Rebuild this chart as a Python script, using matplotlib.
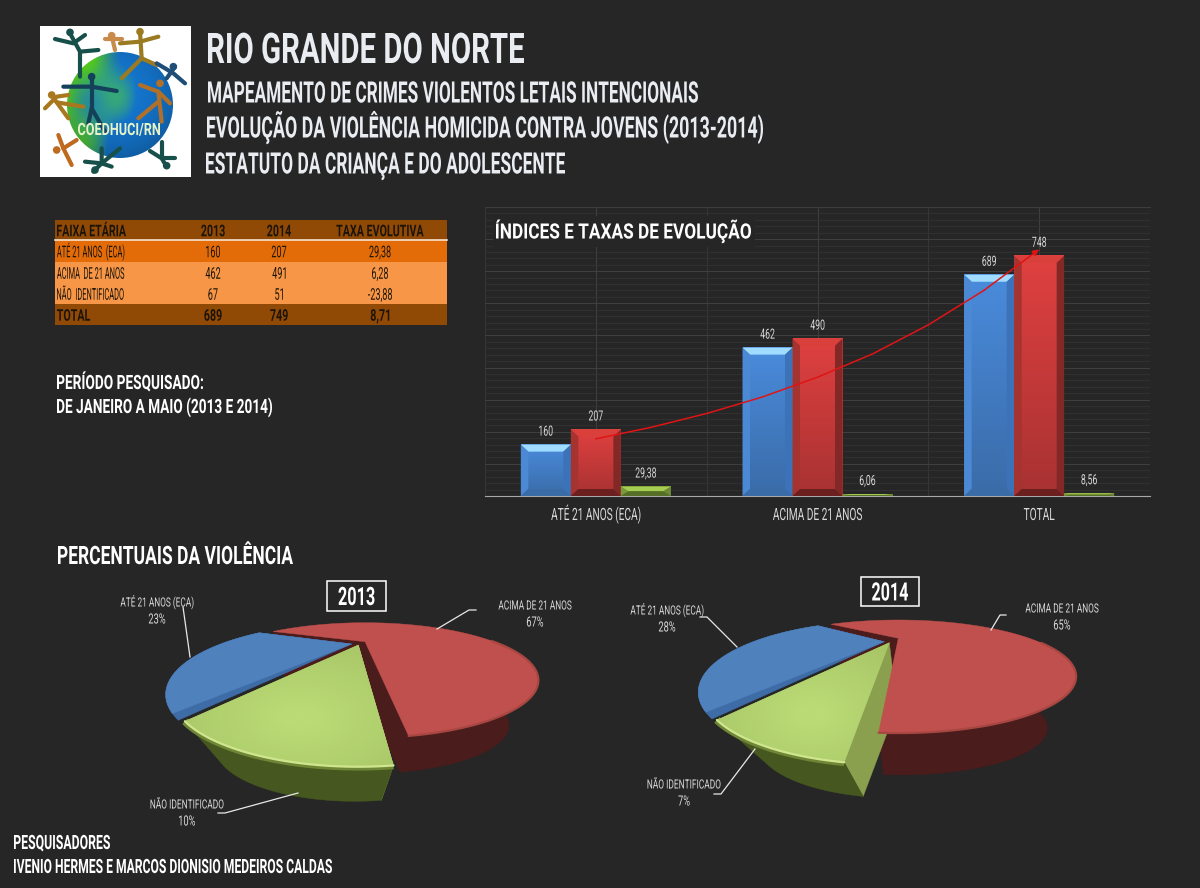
import numpy as np
import matplotlib
matplotlib.use("Agg")
import matplotlib.pyplot as plt
from matplotlib.patches import Polygon, Rectangle, Circle
from matplotlib.colors import LinearSegmentedColormap, to_rgba
from matplotlib.text import Text
from matplotlib.textpath import TextPath
from matplotlib.transforms import Affine2D
from matplotlib.font_manager import FontProperties

# ---------- DATA ----------
table_header = ["FAIXA ETÁRIA", "2013", "2014", "TAXA EVOLUTIVA"]
table_rows = [
    ["ATÉ 21 ANOS  (ECA)", "160", "207", "29,38"],
    ["ACIMA  DE 21 ANOS", "462", "491", "6,28"],
    ["NÃO  IDENTIFICADO", "67", "51", "-23,88"],
]
table_total = ["TOTAL", "689", "749", "8,71"]

bar_categories = ["ATÉ 21 ANOS (ECA)", "ACIMA DE 21 ANOS", "TOTAL"]
values_2013 = [160, 462, 689]
values_2014 = [207, 490, 748]
values_rate = [29.38, 6.06, 8.56]
rate_labels = ["29,38", "6,06", "8,56"]

trend_x = [0, 0.25, 0.5, 0.75, 1.0, 1.25, 1.5, 1.75, 2.0]
trend_y = [178, 214, 257, 308, 370, 443, 533, 640, 768]

pie_labels = ["ATÉ 21 ANOS (ECA)", "ACIMA DE 21 ANOS", "NÃO IDENTIFICADO"]
pie_2013 = [23, 67, 10]
pie_2014 = [28, 65, 7]

BG = "#262626"
plt.rcParams["font.family"] = ["Roboto", "DejaVu Sans"]

fig = plt.figure(figsize=(12, 8.88), dpi=100, facecolor=BG)
ov = fig.add_axes([0, 0, 1, 1], zorder=1)
ov.set_xlim(0, 1200)
ov.set_ylim(888, 0)
ov.axis("off")


class CondensedText(Text):
    """A text artist drawn with its glyphs squeezed horizontally, as the chart's condensed face."""

    def __init__(self, x, y, s, cap, width=None, squeeze=0.62, **kw):
        super().__init__(x, y, s, va="center", **kw)
        self._cap, self._wid, self._sq = cap, width, squeeze

    def _geom(self):
        fp = FontProperties(family="Roboto", weight=self.get_fontweight())
        tp = TextPath((0, 0), self.get_text(), size=100, prop=fp)
        e = tp.get_extents()
        h = TextPath((0, 0), "H", size=100, prop=fp).get_extents().height
        sy = self._cap / h
        sx = self._wid / e.width if self._wid else self._sq * sy
        dx, dy = self.get_transform().transform(self.get_position())
        ha = self.get_ha()
        tx = dx - e.x0 * sx if ha == "left" else dx - (e.x0 + e.width / 2) * sx
        return tp, Affine2D().scale(sx, sy).translate(tx, dy - self._cap / 2)

    def get_window_extent(self, renderer=None, dpi=None):
        p, tr = self._geom()
        return p.get_extents(tr)

    def draw(self, renderer):
        if not self.get_visible():
            return
        p, tr = self._geom()
        gc = renderer.new_gc()
        gc.set_linewidth(0)
        gc.set_antialiased(True)
        renderer.draw_path(gc, p, tr, rgbFace=to_rgba(self.get_color()))
        gc.restore()


def fit(x, y, s, cap, width=None, squeeze=0.62, color="#F0F2F5", weight="normal", ha="left", ax=ov, zorder=10):
    t = CondensedText(x, y, s, cap, width, squeeze, color=color, fontweight=weight, ha=ha, zorder=zorder)
    ax._add_text(t)
    t.set_clip_on(False)
    return t


# ---------- HEADINGS ----------
TXT = "#E9ECF1"
fit(208, 48, "RIO GRANDE DO NORTE", 30, 316, weight="bold", color=TXT)
fit(208, 92, "MAPEAMENTO DE CRIMES VIOLENTOS LETAIS INTENCIONAIS", 21, 490, weight="bold", color=TXT)
fit(207, 127, "EVOLUÇÃO DA VIOLÊNCIA HOMICIDA CONTRA JOVENS (2013-2014)", 21, 556, weight="bold", color=TXT)
fit(206, 163, "ESTATUTO DA CRIANÇA E DO ADOLESCENTE", 21, 359, weight="bold", color=TXT)
fit(57, 382, "PERÍODO PESQUISADO:", 14, 146, weight="bold", color="white")
fit(57, 406, "DE JANEIRO A MAIO (2013 E 2014)", 14, 215, weight="bold", color="white")
fit(58, 555, "PERCENTUAIS DA VIOLÊNCIA", 18, 235, weight="bold", color="white")
fit(14, 842, "PESQUISADORES", 14, 96, weight="bold", color="white")
fit(14, 866, "IVENIO HERMES E MARCOS DIONISIO MEDEIROS CALDAS", 14, 318, weight="bold", color="white")

# ---------- LOGO ----------
ov.add_patch(Rectangle((40, 26), 151, 151, fc="white", ec="none", zorder=2))
n = 200
yy, xx = np.mgrid[0:1:n * 1j, 0:1:n * 1j]
blue = np.array([0.08, 0.47, 0.82])
green = np.array([0.35, 0.85, 0.12])
mix = np.clip(1.2 - 1.7 * xx - 0.5 * yy + 0.35 * np.sin(xx * 9) * np.cos(yy * 7), 0, 1)[..., None]
img = mix * green + (1 - mix) * blue
shade = 1 - 0.3 * np.clip(np.hypot(xx - 0.45, yy - 0.4) * 1.4, 0, 1)[..., None] ** 2
im = ov.imshow(img * shade, extent=(67, 173, 158, 52), zorder=3, aspect="auto")
im.set_clip_path(Circle((120, 105), 53, transform=ov.transData))
people = [
    ("#17504A", (120, 52), [[(120, 55), (150, 110), (150, 185)], [(75, 72), (130, 85), (165, 60)], [(150, 110), (205, 105)]]),
    ("#C98A4A", (245, 62), [[(225, 72), (275, 72)], [(245, 62), (255, 105)]]),
    ("#9A7B22", (330, 50), [[(270, 85), (330, 80), (385, 65)], [(330, 50), (335, 130)], [(335, 130), (275, 190)], [(335, 130), (380, 150)]]),
    ("#1F4E79", (430, 155), [[(380, 145), (430, 175), (465, 205)], [(410, 190), (435, 155)]]),
    ("#14405A", (185, 185), [[(100, 215), (185, 215), (260, 228)], [(185, 190), (185, 280)], [(185, 280), (175, 325)], [(185, 280), (225, 350)]]),
    ("#B0702A", (390, 205), [[(330, 210), (385, 230), (420, 265)], [(385, 230), (395, 320)], [(385, 260), (325, 310)]]),
    ("#A8781E", (65, 240), [[(45, 280), (80, 245), (115, 240)], [(75, 255), (115, 310)], [(80, 262), (160, 275)]]),
    ("#C06A20", (80, 405), [[(85, 360), (100, 400), (140, 375)], [(100, 400), (125, 450)]]),
    ("#17504A", (195, 465), [[(165, 440), (215, 445), (270, 400)], [(215, 400), (215, 445), (245, 455)], [(215, 445), (190, 470)]]),
    ("#17504A", (410, 452), [[(395, 380), (395, 430), (435, 430)], [(360, 408), (395, 430), (410, 455)]]),
]
for col, head, strokes in people:
    ov.add_patch(Circle((head[0] / 3 + 30, head[1] / 3 + 15), 3.8, fc=col, ec="none", zorder=4))
    for st in strokes:
        pts = np.array(st) / 3 + np.array([30, 15])
        ov.plot(pts[:, 0], pts[:, 1], color=col, lw=3.0, solid_capstyle="round", zorder=4)
fit(119, 129, "COEDHUCI/RN", 12, 82, weight="bold", color="#E6F2C8", ha="center", zorder=5)

# ---------- TABLE ----------
col_x = [57, 213, 279, 380]
col_ha = ["left", "center", "center", "center"]
DARK_O, MID_O, LIGHT_O = "#914A05", "#E36C09", "#F79646"
ink = "#1C1408"
band = [(220, 240, DARK_O), (240, 262, MID_O), (262, 283, LIGHT_O), (283, 304, LIGHT_O), (304, 325, DARK_O)]
for y0, y1, c in band:
    ov.add_patch(Rectangle((55, y0), 392, y1 - y0, fc=c, ec="none", zorder=2))
ov.plot([55, 447], [240.5, 240.5], color="#F5E3D0", lw=1.2, zorder=3)
rows = [table_header] + table_rows + [table_total]
for (y0, y1, _), row in zip(band, rows):
    bold = row in (table_header, table_total)
    for j, (x, ha, s) in enumerate(zip(col_x, col_ha, row)):
        sq = 0.66 if bold else (0.46 if j == 0 else 0.56)
        fit(x, (y0 + y1) / 2 + 0.5, s, 11.5, squeeze=sq, color=ink, weight="bold" if bold else "normal", ha=ha)

# ---------- BARS ----------
ax = fig.add_axes([485 / 1200, (888 - 496) / 888, 665 / 1200, 289 / 888], zorder=2)
ax.set_facecolor("none")
ax.set_xlim(-0.5, 2.5)
ax.set_ylim(0, 900)
ax.set_yticks(np.arange(0, 901, 100))
ax.set_yticks(np.arange(0, 901, 20), minor=True)
ax.set_xticks(np.arange(0, 3))
ax.set_xticks(np.arange(-0.5, 3, 0.5), minor=True)
ax.grid(True, which="major", color="#404040", lw=0.7)
ax.grid(True, which="minor", axis="y", color="#323232", lw=0.6)
ax.grid(True, which="minor", axis="x", color="#383838", lw=0.6)
ax.set_axisbelow(True)
for s in ["left", "right"]:
    ax.spines[s].set_visible(False)
ax.spines["top"].set_color("#3C3C3C")
ax.spines["bottom"].set_color("#A8A8A8")
ax.tick_params(axis="both", which="both", length=0, labelleft=False, labelbottom=False)
bw = 50 / (665 / 3)
px_x = 665 / 3
px_y = 289 / 900
bx, by = 7.5 / px_x, 7 / px_y

series = [
    (-bw, values_2013, [str(v) for v in values_2013], "#4A8BDC", "#3A6CA8", "#9FDCFF", "#4B89D4", "#3C72B8", "#3A6CA8"),
    (0, values_2014, [str(v) for v in values_2014], "#E04040", "#A83232", "#D9403C", "#A53330", "#832826", "#6B1F1E"),
    (bw, values_rate, rate_labels, "#6E8A35", "#5F7A2C", "#A6CC52", "#7C9A3C", "#6E8A35", "#566E26"),
]
for off, vals, labs_, c_top, c_bot, bev_t, bev_l, bev_r, bev_b in series:
    cm = LinearSegmentedColormap.from_list("b", [c_top, c_bot])
    for i, (v, lab) in enumerate(zip(vals, labs_)):
        x0 = i + off - bw / 2
        x1 = x0 + bw
        ax.bar(i + off, v, width=bw, color=c_bot, zorder=2)
        b_y = min(by, v * 0.5)
        ax.imshow(np.linspace(0, 1, 64)[:, None], extent=(x0, x1, 0, v), origin="upper", cmap=cm, aspect="auto", zorder=2.1)
        ax.add_patch(Polygon([(x0, v), (x1, v), (x1 - bx, v - b_y), (x0 + bx, v - b_y)], fc=bev_t, ec="none", zorder=3))
        ax.add_patch(Polygon([(x0, 0), (x0, v), (x0 + bx, v - b_y), (x0 + bx, b_y)], fc=bev_l, ec="none", zorder=3))
        ax.add_patch(Polygon([(x1, 0), (x1, v), (x1 - bx, v - b_y), (x1 - bx, b_y)], fc=bev_r, ec="none", zorder=3))
        ax.add_patch(Polygon([(x0, 0), (x1, 0), (x1 - bx, b_y), (x0 + bx, b_y)], fc=bev_b, ec="none", zorder=3))
        fit(i + off, v + 14 / px_y, lab, 10, squeeze=0.62, color="#D9D9D9", ha="center", ax=ax, zorder=6)
ax.set_xlim(-0.5, 2.5)
ax.set_ylim(0, 900)
for i, cat in enumerate(bar_categories):
    fit(i, -18 / px_y, cat, 12, squeeze=0.6, color="#D9D9D9", ha="center", ax=ax, zorder=6)
ax.plot(trend_x[:-1], trend_y[:-1], color="#E01414", lw=1.1, zorder=5)
ax.annotate("", xy=(trend_x[-1], trend_y[-1]), xytext=(trend_x[-2], trend_y[-2]),
            arrowprops=dict(arrowstyle="-|>", color="#E01414", lw=1.1, mutation_scale=9, shrinkA=0, shrinkB=0), zorder=5)

# ---------- OVERLAY FOR CHART TITLE AND PIES ----------
top_ax = fig.add_axes([0, 0, 1, 1], zorder=3)
top_ax.set_xlim(0, 1200)
top_ax.set_ylim(888, 0)
top_ax.axis("off")
top_ax.patch.set_alpha(0)
top_ax.add_patch(Rectangle((493, 216), 262, 31, fc=BG, ec="none", zorder=1))
fit(496, 231, "ÍNDICES E TAXAS DE EVOLUÇÃO", 15, 255, weight="bold", color="white", ax=top_ax)


def proj(theta, g, bottom=False):
    t = np.radians(theta)
    u, v = np.sin(t), np.cos(t)
    w = 1 - g["k"] * v
    if bottom:
        ax_, ay_ = g["apex_b"]
        s = g["s"]
    else:
        ax_, ay_ = g["apex"]
        s = 1
    return np.column_stack([ax_ + s * g["A"] * u / w, ay_ + s * g["B"] * v / w])


def arc(a, b, n=90):
    return np.linspace(a, b, n)


def poly(pts, color, z):
    p = Polygon(pts, closed=True, fc=color, ec=color, lw=0.3, zorder=z)
    top_ax.add_patch(p)
    return p


GREEN_CM = LinearSegmentedColormap.from_list("g", ["#A8C566", "#BADB76"])


def draw_pie(values, start, red_nudge, blue_gap, gb, gr, gg):
    a_g0 = start
    a_g1 = a_g0 + values[2] * 3.6
    a_r0 = a_g1 + red_nudge
    a_r1 = a_g1 + values[1] * 3.6
    a_b0 = a_r1
    a_b1 = a_b0 + values[0] * 3.6

    th = arc(a_r0, a_r0 + 115)
    poly(np.vstack([proj(th, gr), proj(th, gr, True)[::-1]]), "#4A1C1C", 2)
    for ang in (a_r0, a_r1):
        a = np.array([ang])
        poly(np.vstack([[gr["apex"]], proj(a, gr), proj(a, gr, True), [gr["apex_b"]]]), "#4A1C1C", 2)

    a = np.array([a_g1])
    poly(np.vstack([[gg["apex"]], proj(a, gg), proj(a, gg, True), [gg["apex_b"]]]), "#8AA04E", 2.5)
    th = arc(a_g0, a_g1)
    rim = proj(th, gg)
    poly(np.vstack([rim, proj(th, gg, True)[::-1]]), "#46581F", 3)
    top_ax.plot(*rim.T, color="#6F8636", lw=5.5, zorder=3.2, solid_capstyle="butt")

    poly(np.vstack([[gr["apex"]], proj(arc(a_r0, a_r1, 240), gr)]), "#C0504D", 4)
    top_ax.plot(*proj(arc(a_r0, a_r0 + 85), gr).T, color="#A84642", lw=1.6, zorder=4.1, solid_capstyle="round")

    poly(np.vstack([[gb["apex"]], proj(arc(a_b0, a_b1), gb)]), "#3E6CA6", 4)
    poly(np.vstack([[gb["apex"]], proj(arc(a_b0, a_b1 - blue_gap), gb)]), "#4F81BD", 4.2)

    outline = np.vstack([[gg["apex"]], rim])
    face = poly(outline, "#B2D06E", 5)
    x0, x1 = outline[:, 0].min(), outline[:, 0].max()
    y0, y1 = outline[:, 1].min(), outline[:, 1].max()
    g_y, g_x = np.mgrid[0:1:120j, 0:1:120j]
    shadeg = np.clip(1 - np.hypot((g_x - 0.55) * 1.4, (g_y - 0.6) * 1.4), 0, 1)
    img_g = top_ax.imshow(shadeg, extent=(x0, x1, y1, y0), cmap=GREEN_CM, vmin=0, vmax=0.9, aspect="auto", zorder=5.05)
    img_g.set_clip_path(face)
    top_ax.plot(*rim.T, color="#CFE68F", lw=1.6, zorder=5.1, solid_capstyle="round")


geom13 = dict(
    gb=dict(apex=(351.7, 644), k=0.71, A=131, B=35.3, apex_b=(351.7, 650), s=0.9),
    gr=dict(apex=(365, 641.7), k=0.67, A=128.7, B=31.7, apex_b=(363.3, 693), s=0.84),
    gg=dict(apex=(358.3, 645), k=0.71, A=131, B=35.3, apex_b=(355, 710), s=0.75),
)
geom14 = dict(
    gb=dict(apex=(884.3, 641.7), k=0.71, A=131, B=35.3, apex_b=(884.3, 650), s=0.9),
    gr=dict(apex=(898.3, 638.3), k=0.676, A=131, B=30.7, apex_b=(900, 696.3), s=0.83),
    gg=dict(apex=(889.3, 642.7), k=0.71, A=131, B=35.3, apex_b=(897, 706.7), s=0.75),
)
draw_pie(pie_2013, -31.5, 2.0, 3.3, **geom13)
draw_pie(pie_2014, -31.0, 3.0, 3.3, **geom14)
top_ax.set_xlim(0, 1200)
top_ax.set_ylim(888, 0)

LBL = "#D9D9D9"
labs = [
    (pie_labels[0], pie_2013[0], 157, 602, [(183, 607), (190, 657)]),
    (pie_labels[1], pie_2013[1], 535, 605, [(476, 610), (469, 610), (437, 629)]),
    (pie_labels[2], pie_2013[2], 187, 804, [(218, 813), (225, 813), (298, 793)]),
    (pie_labels[0], pie_2014[0], 667, 610, [(700, 617), (707, 617), (737, 647)]),
    (pie_labels[1], pie_2014[1], 1062, 608, [(1006, 615), (1000, 615), (991, 630)]),
    (pie_labels[2], pie_2014[2], 684, 784, [(714, 794), (721, 794), (755, 749)]),
]
for name, val, x, y, leader in labs:
    l = np.array(leader)
    top_ax.plot(l[:, 0], l[:, 1], color="#E8E8E8", lw=0.9, zorder=7)
    fit(x, y, name, 9, 73, color=LBL, ha="center", ax=top_ax, zorder=8)
    fit(x, y + 16.5, f"{val}%", 10, squeeze=0.66, color=LBL, ha="center", ax=top_ax, zorder=8)

for (x0, y0, x1, y1, s) in [(327, 581, 386, 611, "2013"), (861, 577, 919, 606, "2014")]:
    top_ax.add_patch(Rectangle((x0, y0), x1 - x0, y1 - y0, fc="none", ec="white", lw=1.1, zorder=8))
    fit((x0 + x1) / 2, (y0 + y1) / 2, s, 18, 36, weight="bold", color="white", ha="center", ax=top_ax, zorder=9)

fig.savefig("out.png", dpi=100, facecolor=BG)
